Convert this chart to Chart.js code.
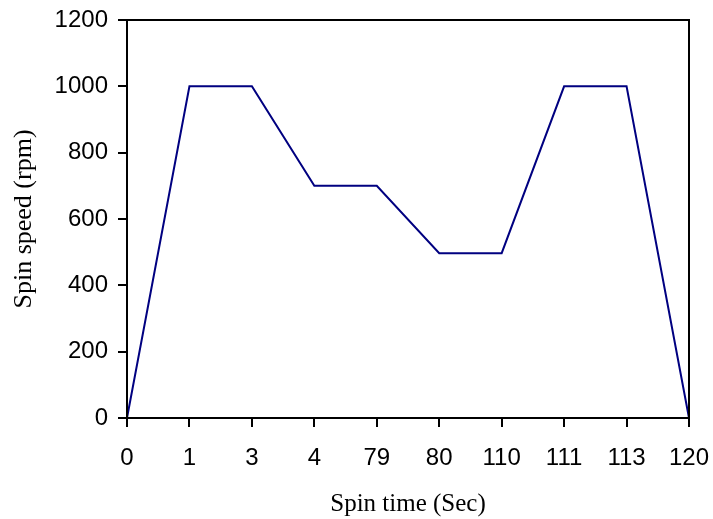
<!DOCTYPE html>
<html>
<head>
<meta charset="utf-8">
<script src="https://cdn.jsdelivr.net/npm/chart.js@4/dist/chart.umd.min.js"></script>
<style>
  html, body { margin: 0; padding: 0; background: #fff; }
  #wrap { width: 713px; height: 519px; }
</style>
</head>
<body>
<div id="wrap"><canvas id="spin-chart" width="713" height="519"></canvas></div>
<script>
const SPIN_TIMES  = ['0', '1', '3', '4', '79', '80', '110', '111', '113', '120']
const SPIN_SPEEDS = [0, 1000, 1000, 700, 700, 497, 497, 1000, 1000, 0]

const Y_MIN = 0, Y_MAX = 1200, Y_STEP = 200

// box around the plot area (top + right edges)
const frame = {
  id: 'frame',
  afterDraw(chart) {
    const { ctx, chartArea: a } = chart
    ctx.save()
    ctx.strokeStyle = '#000'
    ctx.lineWidth = 2
    ctx.strokeRect(a.left, a.top, a.right - a.left, a.bottom - a.top)
    ctx.restore()
  }
}

// let layout.padding alone decide the plot edges
function noPad(s) {
  s.paddingTop = 0; s.paddingBottom = 0; s.paddingLeft = 0; s.paddingRight = 0
}

new Chart(document.getElementById('spin-chart').getContext('2d'), {
  type: 'line',
  data: {
    labels: SPIN_TIMES,
    datasets: [{
      data: SPIN_SPEEDS,
      borderColor: '#000080',
      borderWidth: 2,
      pointRadius: 0,
      tension: 0,
      fill: false
    }]
  },
  options: {
    responsive: false,
    animation: false,
    layout: { padding: { top: 20, right: 24, left: 0, bottom: 0 } },
    plugins: { legend: { display: false }, tooltip: { enabled: false } },
    scales: {
      x: {
        offset: false,
        grid: { drawOnChartArea: false, drawTicks: true, tickLength: 9, color: '#000', lineWidth: 2 },
        border: { color: '#000', width: 2 },
        ticks: { color: '#000', padding: 17, maxRotation: 0, autoSkip: false, font: { family: 'Liberation Sans, Arial', size: 24 } },
        title: { display: true, text: 'Spin time (Sec)', color: '#000', padding: { top: 0, bottom: 0 }, font: { family: 'Liberation Serif, Times New Roman', size: 25 } },
        afterFit: s => { s.height = 101; noPad(s) }
      },
      y: {
        min: Y_MIN, max: Y_MAX,
        grid: { drawOnChartArea: false, drawTicks: true, tickLength: 9, color: '#000', lineWidth: 2 },
        border: { color: '#000', width: 2 },
        ticks: { stepSize: Y_STEP, color: '#000', padding: 10, callback: v => String(v), font: { family: 'Liberation Sans, Arial', size: 24 } },
        title: { display: true, text: 'Spin speed (rpm)', color: '#000', padding: { top: 9, bottom: 0 }, font: { family: 'Liberation Serif, Times New Roman', size: 26 } },
        afterFit: s => { s.width = 127; noPad(s) }
      }
    }
  },
  plugins: [frame]
})
</script>
</body>
</html>
